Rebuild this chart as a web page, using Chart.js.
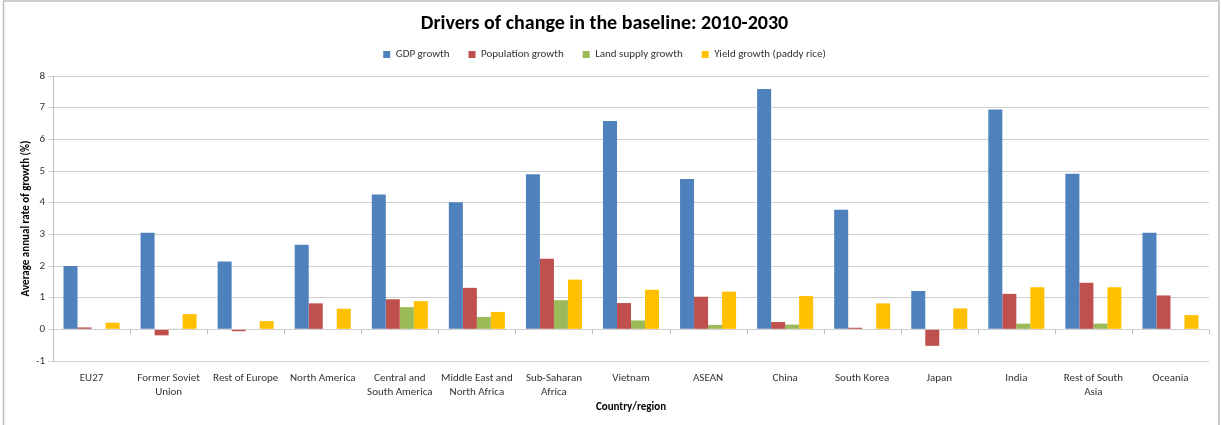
<!DOCTYPE html>
<html>
<head>
<meta charset="utf-8">
<title>Drivers of change in the baseline: 2010-2030</title>
<script src="https://cdn.jsdelivr.net/npm/chart.js@4"></script>
<style>
  html, body { margin: 0; padding: 0; background: #fff; }
  #wrap { width: 1221px; height: 425px; position: relative; }
</style>
</head>
<body>
<div id="wrap"><canvas id="driversChart"></canvas></div>
<script>
// Regions along the x axis (multi-line labels wrap like the original)
const regions = [
    'EU27', ['Former Soviet', 'Union'], 'Rest of Europe', 'North America',
    ['Central and', 'South America'], ['Middle East and', 'North Africa'],
    ['Sub-Saharan', 'Africa'], 'Vietnam', 'ASEAN', 'China', 'South Korea',
    'Japan', 'India', ['Rest of South', 'Asia'], 'Oceania'
];

// Average annual growth rates (%), 2010-2030
const gdpGrowth = [2.0, 3.05, 2.14, 2.67, 4.26, 4.01, 4.90, 6.58, 4.75, 7.59, 3.78, 1.21, 6.94, 4.91, 3.05];
const populationGrowth = [0.06, -0.19, -0.06, 0.82, 0.95, 1.31, 2.23, 0.83, 1.03, 0.23, 0.05, -0.52, 1.12, 1.47, 1.07];
const landSupplyGrowth = [0, 0.02, 0, 0, 0.70, 0.39, 0.92, 0.28, 0.14, 0.15, 0, 0, 0.18, 0.18, 0];
const yieldGrowth = [0.21, 0.48, 0.26, 0.65, 0.89, 0.55, 1.57, 1.25, 1.19, 1.05, 0.82, 0.66, 1.33, 1.33, 0.45];

const yTicks = { min: -1, max: 8, step: 1 };

const FONT = 'Carlito, Calibri, Lato, sans-serif';
Chart.defaults.font.family = FONT;
Chart.defaults.color = '#333333';

// White page with a thin grey frame around the whole chart
const framePlugin = {
    id: 'frame',
    beforeDraw(chart) {
        const { ctx, width, height } = chart;
        ctx.save();
        ctx.fillStyle = '#ffffff';
        ctx.fillRect(0, 0, width, height);
        ctx.strokeStyle = '#bdbdbd';
        ctx.lineWidth = 1.5;
        ctx.strokeRect(3.5, 1, width - 5.5, height + 5);
        ctx.restore();
    }
};

// Leave some extra room between the legend row and the plot
const legendGapPlugin = {
    id: 'legendGap',
    afterInit(chart) {
        const legend = chart.legend;
        if (!legend) return;
        const fit = legend.fit;
        legend.fit = function () {
            fit.call(this);
            this.height += 6;
        };
    }
};

// Category boundary tick marks hanging off the zero line
const zeroTicksPlugin = {
    id: 'zeroTicks',
    afterDatasetsDraw(chart) {
        const { ctx, scales: { x, y } } = chart;
        const y0 = Math.round(y.getPixelForValue(0)) + 0.5;
        const n = regions.length;
        const step = (x.right - x.left) / n;
        ctx.save();
        ctx.strokeStyle = '#bfbfbf';
        ctx.lineWidth = 1;
        ctx.beginPath();
        for (let i = 1; i <= n; i++) {
            const px = Math.round(x.left + i * step) + 0.5;
            ctx.moveTo(px, y0);
            ctx.lineTo(px, y0 + 5);
        }
        ctx.stroke();
        ctx.restore();
    }
};

const ctx = document.getElementById('driversChart').getContext('2d');
const driversChart = new Chart(ctx, {
    type: 'bar',
    data: {
        labels: regions,
        datasets: [
            { label: 'GDP growth', data: gdpGrowth, backgroundColor: '#4f81bd' },
            { label: 'Population growth', data: populationGrowth, backgroundColor: '#c0504d' },
            { label: 'Land supply growth', data: landSupplyGrowth, backgroundColor: '#9bbb59' },
            { label: 'Yield growth (paddy rice)', data: yieldGrowth, backgroundColor: '#ffc000' }
        ]
    },
    options: {
        responsive: true,
        maintainAspectRatio: false,
        animation: false,
        layout: { padding: { left: 0, right: 12, top: 0, bottom: 0 } },
        datasets: {
            bar: { categoryPercentage: 0.727, barPercentage: 1.0, borderWidth: 0 }
        },
        plugins: {
            title: {
                display: true,
                text: 'Drivers of change in the baseline: 2010-2030',
                color: '#000000',
                font: { size: 20, weight: 'bold', family: FONT },
                padding: { top: 12, bottom: -6 }
            },
            legend: {
                position: 'top',
                labels: {
                    boxWidth: 7,
                    boxHeight: 7,
                    padding: 19,
                    color: '#333333',
                    font: { size: 11, family: FONT }
                }
            },
            tooltip: { enabled: false }
        },
        scales: {
            x: {
                grid: { display: false },
                border: { display: false },
                ticks: {
                    autoSkip: false,
                    maxRotation: 0,
                    minRotation: 0,
                    padding: 3,
                    color: '#333333',
                    font: { size: 11, family: FONT }
                },
                title: {
                    display: true,
                    text: 'Country/region',
                    color: '#000000',
                    font: { size: 11, weight: 'bold', family: FONT },
                    padding: { top: 4, bottom: 11 }
                },
                afterFit(scale) { scale.height = 64; }
            },
            y: {
                min: yTicks.min,
                max: yTicks.max,
                grid: { color: '#d0d0d0', tickLength: 5 },
                border: { color: '#bfbfbf' },
                ticks: {
                    stepSize: yTicks.step,
                    padding: 3,
                    color: '#333333',
                    font: { size: 11, family: FONT }
                },
                title: {
                    display: true,
                    text: 'Average annual rate of growth (%)',
                    color: '#000000',
                    font: { size: 11, weight: 'bold', family: FONT },
                    padding: { top: 20, bottom: 4 }
                },
                afterFit(scale) { scale.width = 53; }
            }
        }
    },
    plugins: [framePlugin, legendGapPlugin, zeroTicksPlugin]
});
</script>
</body>
</html>
